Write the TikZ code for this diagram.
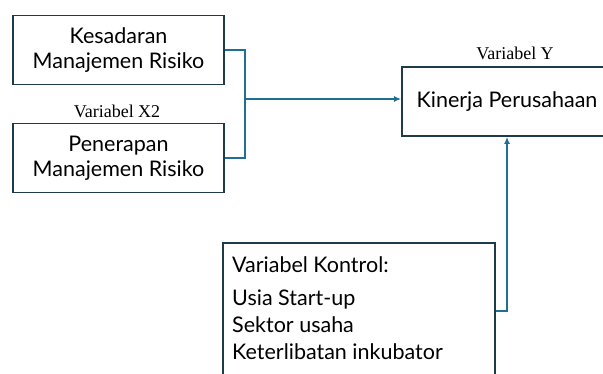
\documentclass[tikz,border=0pt]{standalone}
\usepackage{fontspec}
\setmainfont{Lato}
\newfontfamily\seriffont{Liberation Serif}
\usetikzlibrary{arrows.meta}
\definecolor{boxline}{HTML}{1F3B4B}
\definecolor{conn}{HTML}{1F6E94}
\begin{document}
\begin{tikzpicture}[x=1pt,y=-1pt,
  box/.style={draw=boxline,line width=1.8pt,fill=white,minimum width=#1,inner sep=0pt,align=center,font=\fontsize{21.5}{25}\selectfont},
  link/.style={draw=conn,line width=1.6pt},
  arr/.style={link,-{Latex[length=7pt,width=6pt]}},
  lab/.style={font=\seriffont\fontsize{18}{20}\selectfont,inner sep=0pt}]
\useasboundingbox (0,0) rectangle (603,374);
\node[box=211pt,minimum height=69pt] (b1) at (118.5,50) {Kesadaran\\Manajemen Risiko};
\node[box=211pt,minimum height=69pt] (b2) at (118.5,158) {Penerapan\\Manajemen Risiko};
\node[lab] (lx) at (117,111) {Variabel X2};
\node[box=210pt,minimum height=69pt] (by) at (507,101.5) {Kinerja Perusahaan};
\node[lab] (ly) at (515,53) {Variabel Y};
\node[box=272pt,minimum height=147pt] (bk) at (359,316.5) {};
\node[anchor=north west,inner sep=0pt,align=left,font=\fontsize{21.5}{27}\selectfont] (tk) at (232,256) {Variabel Kontrol:\\[6pt]Usia Start-up\\Sektor usaha\\Keterlibatan inkubator};
\coordinate (j) at (245,99);
\coordinate (k) at (507,311);
\draw[link] (b1.east) -| (j) |- (b2.east);
\draw[arr] (j) -- (j -| by.west);
\draw[arr] (k -| bk.east) -- (k) -- (by.south);
\end{tikzpicture}
\end{document}
